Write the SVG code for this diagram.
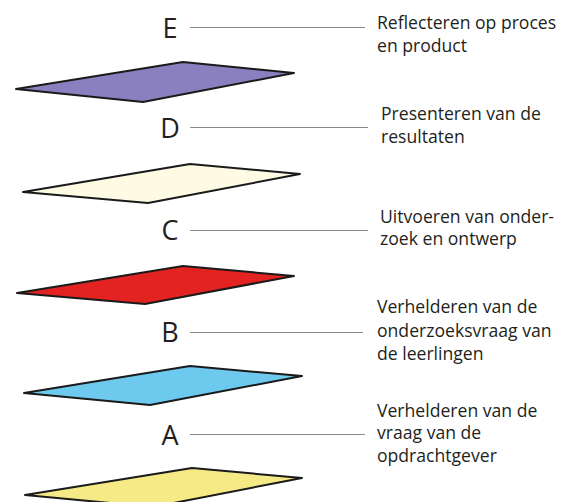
<svg xmlns="http://www.w3.org/2000/svg" width="576" height="502" viewBox="0 0 576 502">
<style>
.plane{stroke:#1a1a1a;stroke-width:2;stroke-linejoin:round}
.letter{font-family:"Open Sans","Liberation Sans",sans-serif;font-size:27px;fill:#231f20;text-anchor:middle}
.lbl{font-family:"Open Sans","Liberation Sans",sans-serif;font-size:17.6px;fill:#231f20}
.conn line{stroke:#8a8a8a;stroke-width:1.2}
</style>
<rect width="576" height="502" fill="#ffffff"/>
<g id="planes">
<polygon id="plane-E" class="plane" fill="#8a80bf" points="16,89 183,62 294,73 143,102"/>
<polygon id="plane-D" class="plane" fill="#fdfbe4" points="23,192 190,164 300,174 148,203"/>
<polygon id="plane-C" class="plane" fill="#e22322" points="17,293 183,266 294,276 145,304"/>
<polygon id="plane-B" class="plane" fill="#6dcaee" points="24,393 190,366 302,376 150,405"/>
<polygon id="plane-A" class="plane" fill="#f6ea86" points="25,495 192,468 302,478 153,507"/>
</g>
<g id="connectors" class="conn">
<line x1="190" y1="27.5" x2="365" y2="27.5"/>
<line x1="190" y1="127.5" x2="368" y2="127.5"/>
<line x1="190" y1="230.5" x2="368" y2="230.5"/>
<line x1="190" y1="332.5" x2="363" y2="332.5"/>
<line x1="190" y1="434.5" x2="365" y2="434.5"/>
</g>
<g id="node-E"><text class="letter" x="170" y="38">E</text>
<text class="lbl" x="377"><tspan x="377" y="29">Reflecteren op proces</tspan><tspan x="377" y="52">en product</tspan></text></g>
<g id="node-D"><text class="letter" x="170" y="138">D</text>
<text class="lbl"><tspan x="381" y="120">Presenteren van de</tspan><tspan x="381" y="143">resultaten</tspan></text></g>
<g id="node-C"><text class="letter" x="170" y="240">C</text>
<text class="lbl"><tspan x="380" y="223">Uitvoeren van onder-</tspan><tspan x="380" y="245">zoek en ontwerp</tspan></text></g>
<g id="node-B"><text class="letter" x="170" y="342">B</text>
<text class="lbl"><tspan x="377" y="313">Verhelderen van de</tspan><tspan x="377" y="337">onderzoeksvraag van</tspan><tspan x="377" y="360">de leerlingen</tspan></text></g>
<g id="node-A"><text class="letter" x="170" y="445">A</text>
<text class="lbl"><tspan x="377" y="417">Verhelderen van de</tspan><tspan x="377" y="439">vraag van de</tspan><tspan x="377" y="462">opdrachtgever</tspan></text></g>
</svg>
